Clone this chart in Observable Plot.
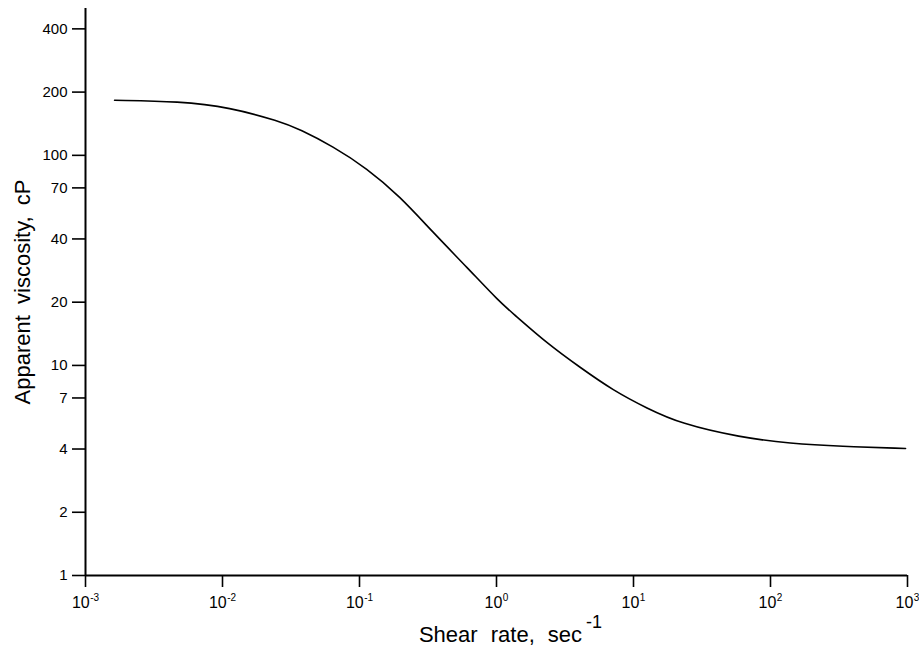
<!DOCTYPE html>
<html>
<head>
<meta charset="utf-8">
<script src="https://cdn.jsdelivr.net/npm/d3@7"></script>
<script src="https://cdn.jsdelivr.net/npm/@observablehq/plot@0.6"></script>
<style>
  html, body { margin: 0; padding: 0; background: white; }
  svg { display: block; }
</style>
</head>
<body>
<div id="chart"></div>
<script>
// Data (shear rate in 1/s, apparent viscosity in cP)
const shearRate = [0.00163, 0.00486, 0.01128, 0.02618, 0.03664, 0.06385, 0.1132, 0.1972, 0.3436, 0.609, 1.061, 1.32, 2.339, 4.076, 7.10, 12.59, 21.9, 60.2, 139.7, 323.8, 968];
const viscosity = [182.8, 180.8, 169.3, 145.2, 133.0, 110.4, 86.7, 63.8, 43.0, 29.3, 19.95, 17.69, 12.73, 9.78, 7.60, 6.24, 5.29, 4.54, 4.25, 4.115, 4.025];

const xTicks = [1e-3, 1e-2, 1e-1, 1e0, 1e1, 1e2, 1e3];
const xTickLabels = ["10^-3", "10^-2", "10^-1", "10^0", "10^1", "10^2", "10^3"];
const yTicks = [1, 2, 4, 7, 10, 20, 40, 70, 100, 200, 400];
const yTickLabels = ["1", "2", "4", "7", "10", "20", "40", "70", "100", "200", "400"];
const xTitle = "Shear rate, sec";
const xTitleSup = "-1";
const yTitle = "Apparent viscosity, cP";

const data = shearRate.map((x, i) => ({x, y: viscosity[i]}));
const xTickData = xTicks.map((v, i) => ({v, label: xTickLabels[i]}));
const yTickData = yTicks.map((v, i) => ({v, label: yTickLabels[i]}));

const chart = Plot.plot({
  width: 919,
  height: 648,
  marginLeft: 85,
  marginRight: 12,
  marginTop: 8,
  marginBottom: 73,
  style: {fontFamily: "'Liberation Sans', Arial, Helvetica, sans-serif", background: "white", color: "black"},
  x: {type: "log", domain: [1e-3, 1e3]},
  y: {type: "log", domain: [1, 500]},
  marks: [
    Plot.axisX({ticks: xTicks, tickSize: 12, strokeWidth: 1.6, label: null, tickFormat: () => ""}),
    Plot.axisY({ticks: yTicks, tickSize: 13, strokeWidth: 1.6, label: null, tickFormat: () => ""}),
    Plot.text(xTickData, {x: "v", text: "label", frameAnchor: "bottom", dy: 21, lineAnchor: "top", fontSize: 16, className: "xtick"}),
    Plot.text(yTickData, {y: "v", text: "label", frameAnchor: "left", dx: -18, textAnchor: "end", fontSize: 15}),
    Plot.ruleY([1], {stroke: "black", strokeWidth: 2}),
    Plot.ruleX([1e-3], {stroke: "black", strokeWidth: 2}),
    Plot.line(data, {x: "x", y: "y", stroke: "black", strokeWidth: 1.6, curve: "basis"}),
    Plot.text([xTitle], {frameAnchor: "bottom", dy: 59, dx: 14, fontSize: 22, lineAnchor: "middle", className: "xtitle"}),
    Plot.text([yTitle], {frameAnchor: "left", dx: -63, rotate: -90, fontSize: 22, textAnchor: "middle", lineAnchor: "middle", className: "ytitle"})
  ]
});

document.getElementById("chart").appendChild(chart);

// superscripts on x tick labels
d3.select(chart).selectAll('.xtick text').each(function() {
  const t = d3.select(this);
  const parts = t.text().split("^");
  if (parts.length === 2) {
    t.text(null);
    t.append("tspan").text(parts[0]);
    t.append("tspan").attr("dy", "-7").attr("dx", "0.5").style("font-size", "10px").text(parts[1]);
  }
});

// x title superscript + word spacing
d3.select(chart).selectAll('.xtitle text').each(function() {
  const t = d3.select(this);
  t.style("word-spacing", "7px");
  t.append("tspan").attr("dy", "-14").attr("dx", "4").style("font-size", "18px").text(xTitleSup);
});
d3.select(chart).selectAll('.ytitle text').style("word-spacing", "5px");
</script>
</body>
</html>
